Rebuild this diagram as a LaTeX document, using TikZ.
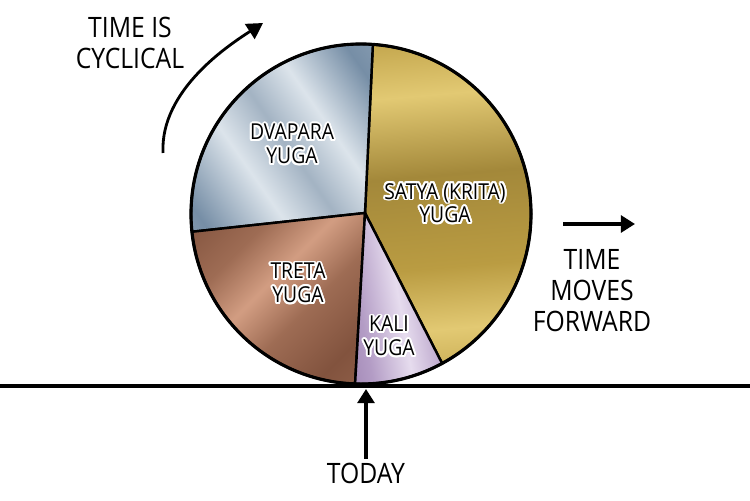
\documentclass[tikz,border=0pt]{standalone}
\usepackage{fontspec}
\setmainfont[FakeStretch=0.88]{Open Sans}
\usepackage{contour}
\contourlength{1.1pt}
\usetikzlibrary{arrows.meta, positioning}

% metal colours
\definecolor{golddk}{HTML}{A3883A}
\definecolor{goldmd}{HTML}{BA9C42}
\definecolor{goldlt}{HTML}{E2C973}
\definecolor{steeldk}{HTML}{768EA6}
\definecolor{steelmd}{HTML}{A3B3C3}
\definecolor{steellt}{HTML}{DCE4EB}
\definecolor{copperdk}{HTML}{82533E}
\definecolor{coppermd}{HTML}{9E6C54}
\definecolor{copperlt}{HTML}{D29D82}
\definecolor{lilacdk}{HTML}{8A6CA0}
\definecolor{lilacmd}{HTML}{B39CC5}
\definecolor{lilaclt}{HTML}{E6DCEE}

\pgfdeclarehorizontalshading{goldmetal}{100bp}{color(0bp)=(golddk); color(18bp)=(goldmd); color(30bp)=(goldlt); color(40bp)=(goldmd); color(55bp)=(golddk); color(68bp)=(goldlt); color(80bp)=(goldmd); color(100bp)=(goldmd)}
\pgfdeclarehorizontalshading{steelmetal}{100bp}{color(0bp)=(steelmd); color(20bp)=(steeldk); color(38bp)=(steellt); color(50bp)=(steelmd); color(62bp)=(steellt); color(78bp)=(steeldk); color(100bp)=(steelmd)}
\pgfdeclarehorizontalshading{coppermetal}{100bp}{color(0bp)=(coppermd); color(25bp)=(copperdk); color(42bp)=(coppermd); color(55bp)=(copperlt); color(68bp)=(coppermd); color(85bp)=(copperdk); color(100bp)=(coppermd)}
\pgfdeclarehorizontalshading{lilacmetal}{100bp}{color(0bp)=(lilacdk); color(30bp)=(lilacmd); color(50bp)=(lilaclt); color(70bp)=(lilacmd); color(100bp)=(lilacdk)}

\newcommand{\halo}[1]{\contour{white}{#1}}

\begin{document}
\begin{tikzpicture}[x=0.02cm, y=0.02cm,
  % Node styles
  yuga/.style={align=center, inner sep=0pt, font=\fontsize{12.5}{13.5}\selectfont},
  side/.style={align=center, inner sep=0pt, font=\fontsize{16}{17.6}\selectfont},
  % Path styles
  sector/.style={draw=black, line width=1.4pt, line join=round},
  % Arrow styles
  arr/.style={-{Triangle[length=8pt, width=9.5pt]}, line width=2.2pt},
  carr/.style={-{Triangle[length=9pt, width=10pt]}, line width=1.6pt},
]

  \useasboundingbox (0,0) rectangle (750,500);

  % ── Ground ──
  \coordinate (gl) at (0,114);
  \coordinate (gr) at (750,114);
  \draw[line width=2pt] (gl) -- (gr);

  % ── Wheel of the yugas ──
  \coordinate (c) at (361,286);
  \coordinate (hub) at (365,287);

  \shadedraw[sector, shading=goldmetal, shading angle=95]
    (hub) -- ([shift={(-61.5:170)}]c) arc[start angle=-61.5, end angle=86, radius=170] -- cycle;
  \shadedraw[sector, shading=steelmetal, shading angle=35]
    (hub) -- ([shift={(86:170)}]c) arc[start angle=86, end angle=186, radius=170] -- cycle;
  \shadedraw[sector, shading=coppermetal, shading angle=135]
    (hub) -- ([shift={(186:170)}]c) arc[start angle=186, end angle=268, radius=170] -- cycle;
  \shadedraw[sector, shading=lilacmetal, shading angle=10]
    (hub) -- ([shift={(268:170)}]c) arc[start angle=268, end angle=298.5, radius=170] -- cycle;
  \draw[line width=1.8pt] (c) circle[radius=170];

  % ── Yuga labels ──
  \node[yuga] (satya) at (445,296) {\halo{SATYA (KRITA)}\\\halo{YUGA}};
  \node[yuga] (dvapara) at (292,355) {\halo{DVAPARA}\\\halo{YUGA}};
  \node[yuga] (treta) at (298,216) {\halo{TRETA}\\\halo{YUGA}};
  \node[yuga] (kali) at (389,163) {\halo{KALI}\\\halo{YUGA}};

  % ── Side notes ──
  \node[side] (cyc) at (130,457) {TIME IS\\CYCLICAL};
  \node[side] (fwd) at (592,209) {TIME\\MOVES\\FORWARD};
  \node[side] (today) at (366,27) {TODAY};

  % ── Arrows ──
  \coordinate (cycA) at (163,347);
  \coordinate (cycB) at (263,477);
  \draw[carr] (cycA) .. controls (160,410) and (229,455) .. (cycB);

  \coordinate (fwdA) at (563,276);
  \coordinate (fwdB) at (635,276);
  \draw[arr] (fwdA) -- (fwdB);

  \coordinate (now) at (366,111);
  \draw[arr] ([yshift=2pt]today.north) -- (now);

\end{tikzpicture}
\end{document}
